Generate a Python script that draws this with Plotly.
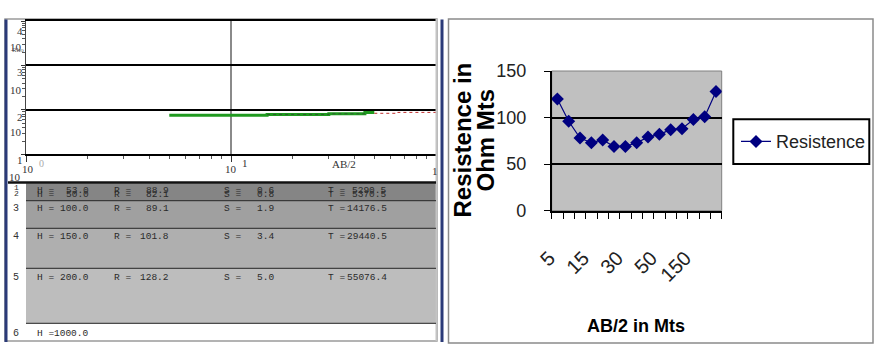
import plotly.graph_objects as go

W, H = 879, 346
def px(x): return x / W
def py(y): return 1 - y / H

# ---------------- data ----------------
# Left: sounding curve (log-log), observed + model
obs_ab2 = [5, 15, 30, 45, 50]
obs_rho = [76, 79, 82, 87, 87]
fit_ab2 = [15, 30, 45]
fit_rho = [79, 82, 82]
model_ab2 = [50, 65, 100]
model_rho = [84, 88, 88]

# Left: layer table
layer_no = ["1", "2", "3", "4", "5", "6"]
layer_H = ["53.0", "50.0", "100.0", "150.0", "200.0", "1000.0"]
layer_R = ["88.9", "82.1", "89.1", "101.8", "128.2", ""]
layer_S = ["0.6", "0.8", "1.9", "3.4", "5.0", ""]
layer_T = ["5290.5", "5370.5", "14176.5", "29440.5", "55076.4", ""]

# Right: resistivity vs AB/2
ab2_labels = ["5", "8", "10", "15", "20", "25", "30", "35", "40", "50", "75", "100", "150", "175", "200"]
resistence = [120, 96, 78, 73, 76, 69, 69, 73, 79, 82, 87, 88, 98, 101, 128]
shown_labels = [lab if i % 3 == 0 else "" for i, lab in enumerate(ab2_labels)]

SANS = "Liberation Sans, Arial, sans-serif"
SERIF = "Liberation Serif, DejaVu Serif, serif"
MONO = "Liberation Mono, DejaVu Sans Mono, monospace"

fig = go.Figure()

# left traces
fig.add_trace(go.Scatter(x=obs_ab2, y=obs_rho, mode="lines", line=dict(color="#1f9a1f", width=3, shape="hv"),
                         showlegend=False, xaxis="x", yaxis="y"))
fig.add_trace(go.Scatter(x=fit_ab2, y=fit_rho, mode="lines", line=dict(color="#2f5a2f", width=1, dash="dot", shape="hv"),
                         showlegend=False, xaxis="x", yaxis="y"))
fig.add_trace(go.Scatter(x=model_ab2, y=model_rho, mode="lines", line=dict(color="#c03030", width=1, dash="dot", shape="hv"),
                         showlegend=False, xaxis="x", yaxis="y"))

# right trace
fig.add_trace(go.Scatter(x=ab2_labels, y=resistence, mode="lines+markers", name="Resistence",
                         line=dict(color="#000080", width=1.2),
                         marker=dict(symbol="diamond", size=10, color="#000080"),
                         xaxis="x2", yaxis="y2"))

shapes = []
# panel frames
shapes.append(dict(type="rect", xref="paper", yref="paper", x0=px(5), x1=px(437), y0=py(341), y1=py(19),
                   line=dict(color="#9a9a9a", width=1.5), layer="below"))
shapes.append(dict(type="rect", xref="paper", yref="paper", x0=px(448.5), x1=px(873), y0=py(343), y1=py(19),
                   line=dict(color="#8a8a8a", width=1.5), layer="below"))
# dark blue bars
for x0 in (4.5, 440.5):
    shapes.append(dict(type="rect", xref="paper", yref="paper", x0=px(x0), x1=px(x0 + 3), y0=py(342), y1=py(19.5),
                       fillcolor="#2b3a78", line=dict(width=0), layer="above"))
# left plot right edge
shapes.append(dict(type="line", xref="paper", yref="paper", x0=px(436.5), x1=px(436.5), y0=py(19), y1=py(341),
                   line=dict(color="#c4c4c4", width=2), layer="above"))

# table bands
bands = [(183.3, 200.7, "#858585"), (200.7, 228.3, "#a0a0a0"), (228.3, 268.3, "#afafaf"), (268.3, 323.3, "#bdbdbd")]
for y0, y1, c in bands:
    shapes.append(dict(type="rect", xref="paper", yref="paper", x0=px(26), x1=px(436), y0=py(y1), y1=py(y0),
                       fillcolor=c, line=dict(width=0), layer="below"))
shapes.append(dict(type="line", xref="paper", yref="paper", x0=px(8), x1=px(436), y0=py(182.5), y1=py(182.5),
                   line=dict(color="#111", width=2.5), layer="above"))
for yl in (200.7, 228.3, 268.3, 323.3):
    shapes.append(dict(type="line", xref="paper", yref="paper", x0=px(26), x1=px(436), y0=py(yl), y1=py(yl),
                       line=dict(color="#222", width=1), layer="above"))

# right plot area background
shapes.append(dict(type="rect", xref="x2 domain", yref="y2 domain", x0=0, x1=1, y0=0, y1=1,
                   fillcolor="#c0c0c0", line=dict(color="#808080", width=1), layer="below"))
# legend box
shapes.append(dict(type="rect", xref="paper", yref="paper", x0=px(733.3), x1=px(869.3), y0=py(164), y1=py(119.3),
                   fillcolor="white", line=dict(color="black", width=2), layer="below"))

ann = []
def text(t, x, y, size=12, family=SERIF, color="#333", xanchor="center", **kw):
    ann.append(dict(text=t, x=px(x), y=py(y), xref="paper", yref="paper", showarrow=False,
                    xanchor=xanchor, yanchor="middle", font=dict(size=size, family=family, color=color), **kw))

# left axis labels (as rendered)
text("4", 19.5, 31, 11)
text("10", 16, 47, 11)
text("Rho", 18, 50, 7, color="#555")
text("3", 19.5, 72, 11)
text("10", 16, 90, 11)
text("2", 19.5, 117, 11)
text("10", 16, 132, 11)
text("1", 20, 160, 11)
text("10", 28, 169, 11)
text("0", 41, 163, 10, color="#aaa")
text("10", 15, 177, 11)
text("10", 231, 169, 11)
text("1", 245.5, 163, 11)
text("AB/2", 344, 164, 11)
text("1", 435, 171, 11)

# table text
row_y = [190, 194.5, 209, 236.5, 277.5, 333]
row_num_y = [187.5, 193.5, 209, 236.5, 277.5, 333]
FS = 9.5
for i in range(6):
    text(layer_no[i], 21, row_num_y[i], 8 if i < 2 else 10, family=MONO, color="#333", xanchor="right")
    text("H =", 35, row_y[i], FS, family=MONO, color="#2a2a2a", xanchor="left")
    text(layer_H[i], 91, row_y[i], FS, family=MONO, color="#2a2a2a", xanchor="right")
    if layer_R[i]:
        text("R =", 112, row_y[i], FS, family=MONO, color="#2a2a2a", xanchor="left")
        text(layer_R[i], 171, row_y[i], FS, family=MONO, color="#2a2a2a", xanchor="right")
        text("S =", 222, row_y[i], FS, family=MONO, color="#2a2a2a", xanchor="left")
        text(layer_S[i], 276, row_y[i], FS, family=MONO, color="#2a2a2a", xanchor="right")
        text("T =", 326, row_y[i], FS, family=MONO, color="#2a2a2a", xanchor="left")
        text(layer_T[i], 389, row_y[i], FS, family=MONO, color="#2a2a2a", xanchor="right")

# right titles
text("Resistence in", 461.5, 140, 24, family=SANS, color="black", textangle=-90)
ann[-1]["font"]["weight"] = "bold"
text("Ohm Mts", 484.5, 140, 24, family=SANS, color="black", textangle=-90)
ann[-1]["font"]["weight"] = "bold"
text("AB/2 in Mts", 635.5, 326, 18, family=SANS, color="black")
ann[-1]["font"]["weight"] = "bold"

fig.update_layout(
    width=W, height=H, margin=dict(l=0, r=0, t=0, b=0, pad=0, autoexpand=False),
    paper_bgcolor="white", plot_bgcolor="white",
    shapes=shapes, annotations=ann,
    showlegend=True,
    legend=dict(x=px(736), y=py(141.7), xanchor="left", yanchor="middle", bgcolor="rgba(0,0,0,0)",
                borderwidth=0, font=dict(family=SANS, size=18, color="#222"), itemwidth=30),
    xaxis=dict(type="log", range=[0, 2], domain=[px(26), px(436)], anchor="y",
               showgrid=True, gridcolor="#8a8a8a", gridwidth=2, dtick=1,
               ticks="outside", ticklen=6, tickcolor="#333", showticklabels=False,
               showline=True, linecolor="black", linewidth=1.5, mirror=True, zeroline=False,
               minor=dict(ticks="outside", ticklen=3, tickcolor="#555", showgrid=False)),
    yaxis=dict(type="log", range=[1, 4], domain=[py(154.4), py(21)], anchor="x",
               showgrid=True, gridcolor="black", gridwidth=1.5, dtick=1,
               ticks="outside", ticklen=4, tickcolor="#333", showticklabels=False,
               showline=True, linecolor="#444", linewidth=1, zeroline=False,
               minor=dict(ticks="outside", ticklen=3, tickcolor="#555", showgrid=False)),
    xaxis2=dict(type="category", categoryorder="array", categoryarray=ab2_labels, range=[-0.5, 14.5],
                domain=[px(551.7), px(721.7)], anchor="y2",
                tickvals=ab2_labels, ticktext=shown_labels, tickson="boundaries",
                ticks="outside", ticklen=7, tickcolor="black", tickwidth=1.2,
                tickangle=-45, ticklabelstandoff=26, ticklabelshift=-8,
                tickfont=dict(family=SANS, size=20, color="#222"),
                showline=True, linecolor="black", linewidth=1.5, showgrid=False, zeroline=False),
    yaxis2=dict(range=[0, 150], dtick=50, domain=[py(210.7), py(71)], anchor="x2",
                showgrid=True, gridcolor="black", gridwidth=1.5,
                ticks="outside", ticklen=6, tickcolor="black",
                ticklabelstandoff=14,
                tickfont=dict(family=SANS, size=18, color="#222"),
                showline=True, linecolor="black", linewidth=1.5, zeroline=False),
)

fig.write_html("out.html")
